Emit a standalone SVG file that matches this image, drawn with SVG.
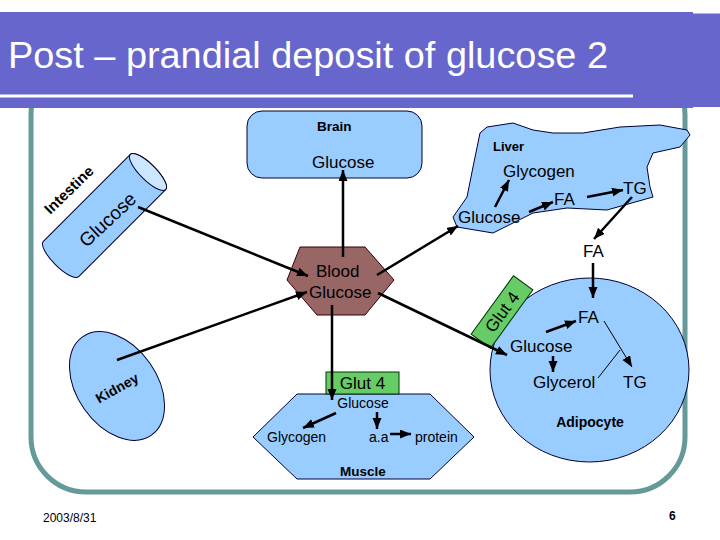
<svg xmlns="http://www.w3.org/2000/svg" width="720" height="540" viewBox="0 0 720 540">
<defs>
<marker id="ah" markerUnits="userSpaceOnUse" markerWidth="12" markerHeight="10" refX="11" refY="4.5" orient="auto">
<path d="M0,0 L11,4.5 L0,9 Z" fill="#000"/>
</marker>
</defs>
<style>
text{font-family:"Liberation Sans",Arial,sans-serif;fill:#000}
.b{font-weight:bold}
.node{fill:#99ccff;stroke:#000033;stroke-width:1}
.con line{stroke:#000;stroke-width:2.5;marker-end:url(#ah)}
.con line.thin{stroke-width:1}
.con line.plain{stroke-width:1;marker-end:none}
.t17{font-size:17px}
.t14{font-size:14px}
</style>
<rect width="720" height="540" fill="#fff"/>
<rect id="frame" x="31" y="60" width="654" height="432" rx="55" ry="55" fill="none" stroke="#669999" stroke-width="5"/>
<g id="title">
<rect x="0" y="12" width="693" height="96" fill="#6666cc"/>
<rect x="693" y="13.5" width="27" height="93.5" fill="#6666cc"/>
<line x1="0" y1="96" x2="633" y2="96" stroke="#fff" stroke-width="3"/>
<text x="8" y="68" font-size="37" style="fill:#fff" textLength="600" lengthAdjust="spacingAndGlyphs">Post – prandial deposit of glucose 2</text>
</g>
<g id="brain">
<rect class="node" x="247" y="111" width="175" height="67" rx="15" ry="15"/>
<text class="b" x="317" y="131" font-size="13.5">Brain</text>
<text class="t17" x="312" y="168">Glucose</text>
</g>
<g id="liver">
<path class="node" d="M480,133 L487,127 L513,123 L533,130 L553,133 L583,133 L620,127 L660,125 L687,130 L690,135 L680,147 L653,153 L647,167 L650,187 L653,197 L607,210 L567,208 L533,213 L493,233 L457,227 L453,217 L467,197 L473,167 Z"/>
<text class="b" x="493" y="151" font-size="13">Liver</text>
<text class="t17" x="503" y="177">Glycogen</text>
<text class="t17" x="554" y="205">FA</text>
<text class="t17" x="623" y="194">TG</text>
<text class="t17" x="458" y="223">Glucose</text>
</g>
<text id="fa-out" class="t17" x="583" y="257">FA</text>
<g id="intestine">
<g transform="translate(148,172) rotate(-45)">
<path class="node" d="M-123,-25 L0,-25 A8,25 0 0 1 0,25 L-123,25 A8,25 0 0 1 -123,-25 Z"/>
<ellipse cx="0" cy="0" rx="8" ry="25" fill="#cce6ff" stroke="#000033" stroke-width="1"/>
</g>
<text class="b" x="69" y="195" font-size="15" text-anchor="middle" transform="rotate(-44 69 190)">Intestine</text>
<text x="108" y="226" font-size="19" text-anchor="middle" transform="rotate(-43 108 220)">Glucose</text>
</g>
<g id="blood">
<polygon points="300,247 365,247 394,280 365,315 317,315 287,280" fill="#996666" stroke="#330000" stroke-width="1"/>
<text class="t17" x="316" y="277">Blood</text>
<text class="t17" x="309" y="298">Glucose</text>
</g>
<g id="kidney">
<ellipse class="node" cx="117" cy="386" rx="60" ry="40" transform="rotate(55 117 386)"/>
<text class="b" x="117" y="393" font-size="14" text-anchor="middle" transform="rotate(-29 117 388)">Kidney</text>
</g>
<g id="muscle">
<polygon class="node" points="297,394 430,394 474,437 430,479 297,479 253,437"/>
<rect x="326" y="372" width="73" height="22" fill="#66cc66" stroke="#003300" stroke-width="1"/>
<text class="t17" x="362.5" y="389" text-anchor="middle">Glut 4</text>
<text class="t14" x="363" y="408" text-anchor="middle">Glucose</text>
<text class="t14" x="267" y="442">Glycogen</text>
<text class="t14" x="369" y="442">a.a</text>
<text class="t14" x="415" y="442">protein</text>
<text class="b" x="363" y="476" font-size="13.5" text-anchor="middle">Muscle</text>
</g>
<g id="adipocyte">
<ellipse class="node" cx="589.5" cy="370" rx="99.5" ry="92"/>
<g transform="translate(502,312) rotate(-54)">
<rect x="-36" y="-12" width="72" height="24" fill="#66cc66" stroke="#003300" stroke-width="1"/>
<text class="t17" x="0" y="6" text-anchor="middle">Glut 4</text>
</g>
<text class="t17" x="578" y="323">FA</text>
<text class="t17" x="510" y="352">Glucose</text>
<text class="t17" x="533" y="388">Glycerol</text>
<text class="t17" x="623" y="388">TG</text>
<text class="b" x="590" y="427" font-size="14" text-anchor="middle">Adipocyte</text>
</g>
<g id="connectors" class="con">
<line x1="138" y1="207" x2="308" y2="276"/>
<line x1="343" y1="257" x2="343" y2="170"/>
<line x1="377" y1="275" x2="458" y2="226"/>
<line x1="378" y1="293" x2="507" y2="355"/>
<line x1="117" y1="360" x2="307" y2="292"/>
<line x1="332" y1="305" x2="332" y2="400"/>
<line x1="495" y1="207" x2="509" y2="180"/>
<line x1="529" y1="212" x2="553" y2="202"/>
<line x1="587" y1="197" x2="623" y2="190"/>
<line x1="632" y1="197" x2="594" y2="239"/>
<line x1="593" y1="263" x2="593" y2="298"/>
<line x1="546" y1="332" x2="576" y2="321"/>
<line x1="553" y1="356" x2="553" y2="372"/>
<line class="thin" x1="604" y1="321" x2="632" y2="367"/>
<line class="plain" x1="598" y1="378" x2="620" y2="350"/>
<line x1="336" y1="413" x2="303" y2="428"/>
<line x1="377" y1="412" x2="377" y2="429"/>
<line x1="390" y1="434" x2="411" y2="434"/>
</g>
<text id="date" x="43" y="522" font-size="12">2003/8/31</text>
<text id="page" class="b" x="669" y="520" font-size="12">6</text>
</svg>
